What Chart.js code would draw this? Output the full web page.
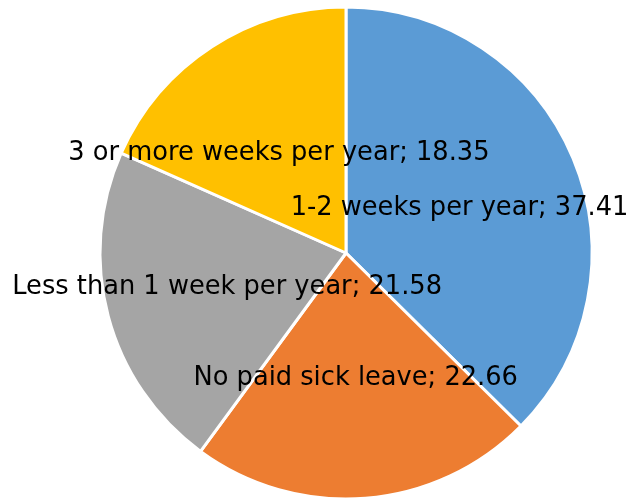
<!DOCTYPE html>
<html>
<head>
  <title>Paid sick leave</title>
  <script src="https://cdn.jsdelivr.net/npm/chart.js"></script>
  <style>
    html, body { margin: 0; padding: 0; background: #fff; }
    #wrap { width: 633px; height: 498px; }
  </style>
</head>
<body>
  <div id="wrap"><canvas id="pie"></canvas></div>

  <script>
    const categories = ["1-2 weeks per year", "No paid sick leave", "Less than 1 week per year", "3 or more weeks per year"];
    const shares = [37.41, 22.66, 21.58, 18.35];
    const colors = ["#5B9BD5", "#ED7D31", "#A5A5A5", "#FFC000"];

    // labels sit halfway out along each slice's middle angle
    const sliceLabels = {
      id: 'sliceLabels',
      afterDatasetsDraw(chart) {
        const ctx = chart.ctx;
        const meta = chart.getDatasetMeta(0);
        ctx.save();
        ctx.font = '25.7px "DejaVu Sans"';
        ctx.fillStyle = '#000';
        ctx.textAlign = 'center';
        ctx.textBaseline = 'middle';
        meta.data.forEach((arc, i) => {
          const mid = (arc.startAngle + arc.endAngle) / 2;
          const r = arc.outerRadius * 0.5;
          const x = arc.x + Math.cos(mid) * r;
          const y = arc.y + Math.sin(mid) * r + 3;
          ctx.fillText(categories[i] + '; ' + shares[i].toFixed(2), x, y);
        });
        ctx.restore();
      }
    };

    new Chart(document.getElementById('pie'), {
      type: 'pie',
      data: {
        labels: categories,
        datasets: [{
          data: shares,
          backgroundColor: colors,
          borderColor: '#fff',
          borderWidth: 3,
          radius: 246
        }]
      },
      options: {
        responsive: true,
        maintainAspectRatio: false,
        animation: false,
        layout: { padding: { left: 59, right: 0, top: 8, bottom: 0 } },
        plugins: {
          legend: { display: false },
          tooltip: { enabled: false }
        }
      },
      plugins: [sliceLabels]
    });
  </script>
</body>
</html>
